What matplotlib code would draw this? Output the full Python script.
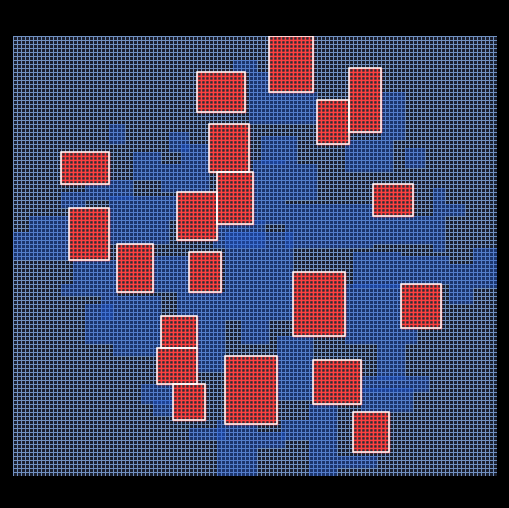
import numpy as np
import matplotlib
matplotlib.use("Agg")
import matplotlib.pyplot as plt
from matplotlib.colors import ListedColormap
from matplotlib.patches import Rectangle

n_cols = 121
n_rows = 110

# rectangles: (col, row, width, height), rows counted from the top
red_rects = [
    (64, 0, 11, 14), (46, 9, 12, 10), (84, 8, 8, 16), (76, 16, 8, 11),
    (49, 22, 10, 12), (12, 29, 12, 8), (51, 34, 9, 13), (41, 39, 10, 12),
    (90, 37, 10, 8), (14, 43, 10, 13), (26, 52, 9, 12), (44, 54, 8, 10),
    (70, 59, 13, 16), (97, 62, 10, 11), (37, 70, 9, 8), (36, 78, 10, 9),
    (53, 80, 13, 17), (75, 81, 12, 11), (40, 87, 8, 9), (85, 94, 9, 10),
]

blue_rects = [
    (55, 6, 6, 3), (59, 9, 5, 13), (64, 14, 12, 8), (92, 14, 6, 12),
    (83, 26, 12, 8), (98, 28, 5, 5), (62, 25, 9, 7), (24, 22, 4, 5),
    (39, 24, 5, 5), (30, 29, 7, 7), (42, 27, 7, 12), (37, 32, 5, 7),
    (18, 36, 12, 5), (12, 39, 6, 4), (24, 40, 17, 6), (4, 45, 10, 4),
    (0, 49, 14, 7), (24, 46, 15, 6), (60, 31, 8, 16), (68, 32, 8, 9),
    (68, 42, 22, 11), (90, 45, 15, 7), (105, 38, 3, 16), (108, 42, 5, 3),
    (115, 53, 6, 10), (109, 57, 6, 10), (85, 54, 12, 9), (83, 62, 14, 5),
    (97, 55, 12, 7), (53, 49, 17, 22), (50, 46, 13, 7), (15, 56, 11, 6),
    (12, 62, 14, 3), (18, 67, 7, 10), (22, 65, 15, 6), (25, 71, 12, 9),
    (35, 55, 9, 9), (41, 64, 12, 6), (46, 70, 7, 14), (57, 71, 7, 6),
    (83, 67, 18, 10), (91, 77, 7, 9), (87, 85, 17, 4), (87, 88, 13, 6),
    (66, 75, 9, 16), (32, 87, 8, 5), (35, 91, 6, 4), (44, 98, 9, 3),
    (51, 96, 10, 14), (67, 96, 7, 5), (74, 92, 7, 18), (81, 105, 10, 3),
    (61, 99, 7, 4),
]

bg_face = "#1b1f2d"
bg_line = "#7090c0"
blue = "#1f5ce0"
red_line = "#ff4040"
red_face = "#2c2c34"

fig = plt.figure(figsize=(5.09, 5.08), dpi=100, facecolor="black")
ax = fig.add_axes([13 / 509, 32 / 508, 484 / 509, 440 / 508])
ax.set_facecolor("black")

# base grid
ax.pcolormesh(np.arange(n_cols + 1), np.arange(n_rows + 1),
              np.zeros((n_rows, n_cols)), cmap=ListedColormap([bg_face]),
              edgecolors=bg_line, linewidth=0.5, antialiased=False, zorder=1)

# blue tiles, translucent so overlaps get darker
for c, r, w, h in blue_rects:
    ax.add_patch(Rectangle((c, r), w, h, facecolor=blue, edgecolor="none",
                           alpha=0.35, zorder=2))

# red tiles
for c, r, w, h in red_rects:
    ax.pcolormesh(np.arange(c, c + w + 1), np.arange(r, r + h + 1),
                  np.zeros((h, w)), cmap=ListedColormap([red_face]),
                  edgecolors=red_line, linewidth=1.0, antialiased=True, zorder=3)
    ax.add_patch(Rectangle((c, r), w, h, facecolor="none", edgecolor="white",
                           linewidth=1.1, zorder=4))

ax.set_xlim(0, n_cols)
ax.set_ylim(n_rows, 0)
ax.axis("off")

fig.savefig("out.png", dpi=100, facecolor="black")
